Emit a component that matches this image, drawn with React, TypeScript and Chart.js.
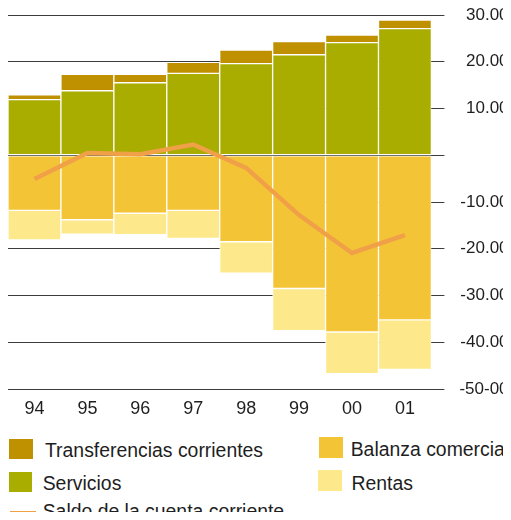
import React, { useEffect, useRef } from "react";
import { Chart, registerables } from "chart.js";

Chart.register(...registerables);

const categories = ["94", "95", "96", "97", "98", "99", "00", "01"];
const servicios = [11900, 13800, 15500, 17500, 19600, 21500, 24100, 27100];
const transferencias = [1000, 3500, 1800, 2400, 2900, 2800, 1600, 1800];
const balanza = [-11800, -13800, -12400, -11800, -18500, -28500, -37800, -35200];
const rentas = [-6300, -3100, -4600, -6000, -6700, -9000, -8900, -10600];
const saldo = [-5100, 500, 200, 2300, -2700, -12800, -20900, -17100];

const yTickValues = [30000, 20000, 10000, 0, -10000, -20000, -30000, -40000, -50000];
const yTickLabels = ["30.000", "20.000", "10.000", "0", "-10.000", "-20.000", "-30.000", "-40.000", "-50-000"];

const seriesNames = {
  transferencias: "Transferencias corrientes",
  servicios: "Servicios",
  balanza: "Balanza comercial",
  rentas: "Rentas",
  saldo: "Saldo de la cuenta corriente",
};

const COLORS = {
  transferencias: "#bf9000",
  servicios: "#a8ad00",
  balanza: "#f4c437",
  rentas: "#fde98b",
  saldo: "#f0a046",
};

const FONT = "'Liberation Sans', Arial, Helvetica, sans-serif";
const TEXT = "#1e1e1e";
const LEG_FS = 19.4;

const CANVAS_W = 510;
const Y_AXIS_W = 86.6;
const TICK_LEN = 13;
const LABEL_RIGHT = 509.5;

function LegendText({ x, baseline, text }: { x: number; baseline: number; text: string }) {
  return (
    <div
      style={{
        position: "absolute",
        left: x,
        top: baseline - 0.8465 * LEG_FS,
        fontFamily: FONT,
        fontSize: LEG_FS,
        lineHeight: `${LEG_FS}px`,
        color: TEXT,
        whiteSpace: "nowrap",
      }}
    >
      {text}
    </div>
  );
}

function Swatch({ x, y, w, h, color }: { x: number; y: number; w: number; h: number; color: string }) {
  return <div style={{ position: "absolute", left: x, top: y, width: w, height: h, background: color }} />;
}

export default function App() {
  const canvasRef = useRef<HTMLCanvasElement | null>(null);

  useEffect(() => {
    document.documentElement.style.overflow = "hidden";
    document.body.style.overflow = "hidden";
    const canvas = canvasRef.current;
    if (!canvas) return;
    const chart = new Chart(canvas, {
      type: "bar",
      data: {
        labels: categories,
        datasets: [
          {
            type: "line",
            label: seriesNames.saldo,
            data: saldo,
            borderColor: COLORS.saldo,
            backgroundColor: COLORS.saldo,
            borderWidth: 4.5,
            pointRadius: 0,
            tension: 0,
            fill: false,
            stack: "saldo",
            order: 0,
          } as any,
          {
            label: seriesNames.servicios,
            data: servicios,
            backgroundColor: COLORS.servicios,
            stack: "bars",
            order: 1,
          },
          {
            label: seriesNames.transferencias,
            data: transferencias,
            backgroundColor: COLORS.transferencias,
            stack: "bars",
            order: 1,
          },
          {
            label: seriesNames.balanza,
            data: balanza,
            backgroundColor: COLORS.balanza,
            stack: "bars",
            order: 1,
          },
          {
            label: seriesNames.rentas,
            data: rentas,
            backgroundColor: COLORS.rentas,
            stack: "bars",
            order: 1,
          },
        ],
      },
      options: {
        responsive: false,
        animation: false,
        devicePixelRatio: 1,
        layout: { padding: { top: 7, left: 0, right: 0, bottom: 0 } },
        datasets: {
          bar: {
            barPercentage: 1,
            categoryPercentage: 1,
            borderWidth: 1,
            borderColor: "#ffffff",
            borderSkipped: false,
          },
        },
        plugins: {
          legend: { display: false },
          tooltip: { enabled: false },
        },
        scales: {
          x: {
            stacked: true,
            grid: { display: false, drawTicks: false },
            border: { display: false },
            ticks: {
              padding: 9,
              color: TEXT,
              font: { family: FONT, size: 18 },
            },
            afterFit: (scale: any) => {
              scale.height = 31;
              scale.paddingLeft = 0;
              scale.paddingRight = 0;
            },
          },
          y: {
            position: "right",
            stacked: true,
            min: -50000,
            max: 30000,
            grid: { color: "#3c3c3c", lineWidth: 1, tickLength: TICK_LEN, drawTicks: true },
            border: { display: false },
            ticks: {
              stepSize: 10000,
              crossAlign: "far",
              padding: 14.5,
              color: TEXT,
              font: { family: FONT, size: 17, lineHeight: 0.8 },
              callback: (value: any) => {
                const i = yTickValues.indexOf(Number(value));
                return i >= 0 ? yTickLabels[i] : "";
              },
            },
            afterFit: (scale: any) => {
              scale.paddingTop = 0;
              scale.paddingBottom = 0;
              scale.width = Y_AXIS_W;
              let widest = 58.6;
              try {
                const sizes = scale._labelSizes || scale._getLabelSizes();
                if (sizes && sizes.widest) widest = sizes.widest.width;
              } catch (e) {}
              const left = CANVAS_W - Y_AXIS_W;
              try {
                scale.options.ticks.padding = LABEL_RIGHT - left - TICK_LEN - widest;
              } catch (e) {}
            },
          },
        },
      } as any,
    });
    return () => chart.destroy();
  }, []);

  return (
    <div
      style={{
        position: "relative",
        width: 503,
        height: 504,
        background: "#ffffff",
      }}
    >
      <canvas
        ref={canvasRef}
        width={CANVAS_W}
        height={412}
        style={{ display: "block", width: CANVAS_W, height: 412 }}
      />
      <Swatch x={1} y={431} w={24} h={20} color={COLORS.transferencias} />
      <LegendText x={37} baseline={449.3} text={seriesNames.transferencias} />
      <Swatch x={311} y={429} w={24} h={21} color={COLORS.balanza} />
      <LegendText x={342.7} baseline={448.7} text={seriesNames.balanza} />
      <Swatch x={1} y={464} w={23} h={20} color={COLORS.servicios} />
      <LegendText x={34.7} baseline={482.7} text={seriesNames.servicios} />
      <Swatch x={310} y={462} w={24} h={21} color={COLORS.rentas} />
      <LegendText x={343.5} baseline={482.7} text={seriesNames.rentas} />
      <Swatch x={2} y={503} w={26} h={5} color={COLORS.saldo} />
      <LegendText x={34.7} baseline={510.7} text={seriesNames.saldo} />
    </div>
  );
}
